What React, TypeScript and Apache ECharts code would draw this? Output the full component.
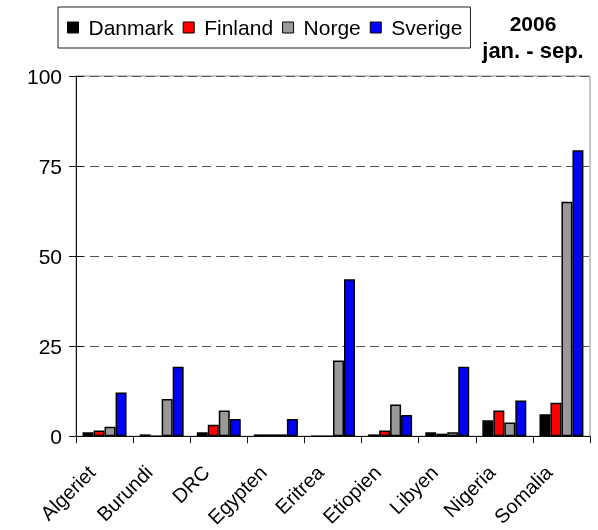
import React, { useEffect, useRef } from "react";
import * as echarts from "echarts";

const categories = ["Algeriet", "Burundi", "DRC", "Egypten", "Eritrea", "Etiopien", "Libyen", "Nigeria", "Somalia"];
const danmark = [1.1, 0.5, 1.1, 0.5, 0, 0.5, 1.1, 4.4, 6.1];
const finland = [1.6, 0, 3.2, 0.5, 0, 1.6, 0.7, 7.1, 9.3];
const norge = [2.6, 10.3, 7.1, 0.5, 21, 8.8, 1.1, 3.8, 65.1];
const sverige = [12.1, 19.3, 4.8, 4.8, 43.6, 5.9, 19.3, 9.9, 79.4];
const yTicks = [0, 25, 50, 75, 100];

const seriesNames = ["Danmark", "Finland", "Norge", "Sverige"];
const seriesColors = ["#000000", "#ff0000", "#999999", "#0000ff"];
const titleLines = ["2006", "jan. - sep."];

export default function App() {
  const ref = useRef<HTMLDivElement>(null);
  useEffect(() => {
    if (!ref.current) return;
    const chart = echarts.init(ref.current, null, { renderer: "svg" });
    const font = "'Liberation Sans', Arial, sans-serif";
    const data = [danmark, finland, norge, sverige];
    const yMin = yTicks[0];
    const yMax = yTicks[yTicks.length - 1];
    const yStep = yTicks[1] - yTicks[0];
    chart.setOption({
      animation: false,
      textStyle: { fontFamily: font },
      grid: {
        left: 76,
        right: 8,
        top: 76,
        bottom: 92,
        show: true,
        borderColor: "#8c8c8c",
        borderWidth: 1,
        backgroundColor: "transparent",
      },
      legend: {
        left: 58,
        top: 7,
        padding: [10, 8, 10, 9],
        borderColor: "#222",
        borderWidth: 1,
        itemWidth: 11,
        itemHeight: 11,
        itemGap: 9,
        icon: "rect",
        textStyle: { fontSize: 21, color: "#000", fontFamily: font, padding: [0, 0, 0, 5] },
        itemStyle: { borderColor: "#000", borderWidth: 1 },
        data: seriesNames,
      },
      graphic: [
        {
          type: "text",
          x: 533,
          y: 23.5,
          style: {
            text: titleLines[0],
            fontSize: 21,
            fontWeight: "bold",
            fill: "#000",
            fontFamily: font,
            align: "center",
            verticalAlign: "middle",
          },
        },
        {
          type: "text",
          x: 533,
          y: 50.5,
          style: {
            text: titleLines[1],
            fontSize: 22,
            fontWeight: "bold",
            fill: "#000",
            fontFamily: font,
            align: "center",
            verticalAlign: "middle",
          },
        },
      ],
      xAxis: {
        type: "category",
        data: categories,
        axisLine: { lineStyle: { color: "#111", width: 1 } },
        axisTick: { show: true, length: 7, lineStyle: { color: "#111" } },
        axisLabel: {
          rotate: 45,
          fontSize: 20,
          color: "#000",
          fontFamily: font,
          margin: 20,
          padding: [0, 18, 0, 0],
        },
      },
      yAxis: [
        {
          type: "value",
          min: yMin,
          max: yMax,
          interval: yStep,
          axisLine: { show: true, lineStyle: { color: "#111", width: 1 } },
          axisTick: { show: true, length: 7, lineStyle: { color: "#111" } },
          axisLabel: { fontSize: 21, color: "#000", fontFamily: font, margin: 14 },
          splitLine: { show: true, lineStyle: { color: "#555", type: [9, 5], width: 1 } },
        },
        {
          type: "value",
          position: "left",
          min: yMin,
          max: yMax,
          interval: yStep,
          axisLine: { show: false },
          axisTick: { show: true, inside: true, length: 7, lineStyle: { color: "#111" } },
          axisLabel: { show: false },
          splitLine: { show: false },
        },
      ],
      series: seriesNames.map((name, i) => ({
        name,
        type: "bar",
        data: data[i],
        barGap: "0%",
        barCategoryGap: "23%",
        itemStyle: { color: seriesColors[i], borderColor: "#000", borderWidth: 1.5 },
      })),
    });
    return () => chart.dispose();
  }, []);
  return <div ref={ref} style={{ position: "fixed", left: 0, top: 0, width: 598, height: 530 }} />;
}
